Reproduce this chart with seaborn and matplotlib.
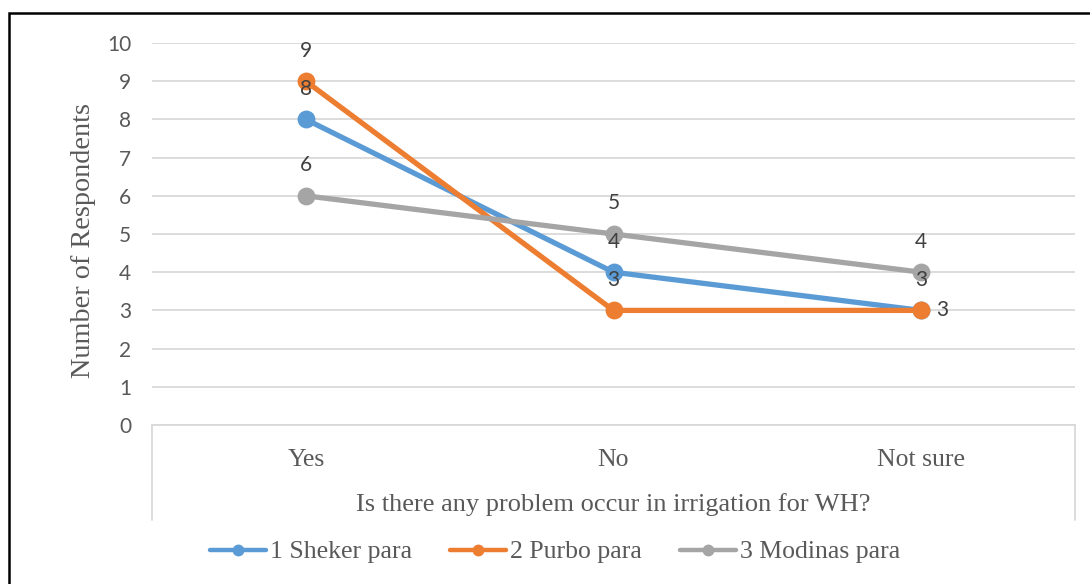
import matplotlib
matplotlib.use("Agg")
import matplotlib.pyplot as plt
from matplotlib.lines import Line2D
from matplotlib.patches import Rectangle
import seaborn as sns
import pandas as pd

categories = ["Yes", "No", "Not sure"]
series_names = ["1 Sheker para", "2 Purbo para", "3 Modinas para"]
sheker = [8, 4, 3]
purbo = [9, 3, 3]
modinas = [6, 5, 4]
colors = ["#5B9BD5", "#ED7D31", "#A5A5A5"]
x_title = "Is there any problem occur in irrigation for WH?"
y_title = "Number of Respondents"
y_ticks = list(range(0, 11))

rows = []
for name, vals in zip(series_names, [sheker, purbo, modinas]):
    for c, v in zip(categories, vals):
        rows.append({"answer": c, "count": v, "village": name})
df = pd.DataFrame(rows)

sns.set_theme(style="white")
SERIF = ["Liberation Serif", "DejaVu Serif"]
SANS = ["Lato", "DejaVu Sans"]

W, H = 1090, 584
fig = plt.figure(figsize=(W / 100, H / 100), dpi=100)
L, R, T, B = 152, 1075, 43, 425
ax = fig.add_axes([L / W, (H - B) / H, (R - L) / W, (B - T) / H])

sns.pointplot(data=df, x="answer", y="count", hue="village", order=categories,
              hue_order=series_names, palette=colors, markers="o", linestyles="-",
              markersize=10, linewidth=3.8, errorbar=None, legend=False, ax=ax)

ax.set_ylim(0, 10)
ax.set_xlim(-0.5, len(categories) - 0.5)
ax.set_yticks(y_ticks)
ax.yaxis.grid(True, color="#D9D9D9", linewidth=1.3)
ax.set_axisbelow(True)
for s in ["left", "right", "top"]:
    ax.spines[s].set_visible(False)
ax.spines["bottom"].set_color("#D9D9D9")
ax.spines["bottom"].set_linewidth(1.3)
ax.tick_params(axis="y", length=0, pad=15, labelsize=15, labelcolor="#595959")
ax.tick_params(axis="x", length=0, pad=17, labelsize=18.5, labelcolor="#595959")
for t in ax.get_yticklabels():
    t.set_family(SANS)
for t in ax.get_xticklabels():
    t.set_family(SERIF)

ax.set_xlabel(x_title, fontsize=19, color="#595959", family=SERIF)
ax.xaxis.set_label_coords(0.5, -(505 - B) / (B - T))
ax.xaxis.label.set_va("center")
ax.set_ylabel(y_title, fontsize=20.3, color="#595959", family=SERIF)
ax.yaxis.set_label_coords((84 - L) / (R - L), 0.5 - 6 / (B - T))
ax.yaxis.label.set_va("center")

# category box lines below the axis
for xa in (0, 1):
    ax.plot([xa, xa], [0, -(520 - B) / (B - T)], transform=ax.transAxes,
            color="#D9D9D9", lw=1.3, clip_on=False)

# data labels
for si, vals in enumerate([sheker, purbo, modinas]):
    for ci, v in enumerate(vals):
        if si == 1 and ci == 2:
            off, ha = (11, 0), "left"
        else:
            off, ha = (0, 22), "center"
        ax.annotate(str(v), (ci, v), xytext=off, textcoords="offset points",
                    ha=ha, va="center", fontsize=15, color="#404040", family=SANS)

handles = [Line2D([], [], color=c, lw=3.2, marker="o", markersize=7.5) for c in colors]
fig.legend(handles, series_names, loc="center", bbox_to_anchor=(555 / W, (H - 552) / H),
           ncol=3, frameon=False, prop={"family": SERIF, "size": 18.5},
           labelcolor="#595959", handlelength=2.18, handletextpad=0.15,
           columnspacing=1.48)

fig.patches.append(Rectangle((9 / W, -0.05), 1.1, (H - 13) / H + 0.05,
                             transform=fig.transFigure, fill=False,
                             edgecolor="black", lw=1.8))

fig.savefig("out.png", dpi=100)
